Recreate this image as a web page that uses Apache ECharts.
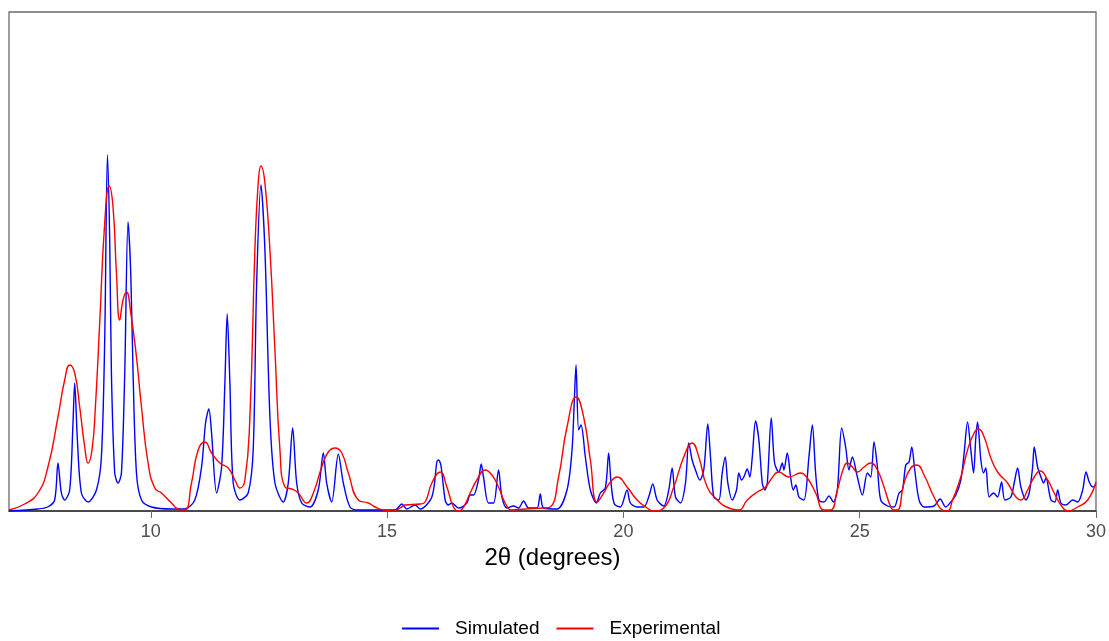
<!DOCTYPE html>
<html>
<head>
<meta charset="utf-8">
<script src="https://cdn.jsdelivr.net/npm/echarts@6/dist/echarts.min.js"></script>
<style>
  html, body { margin: 0; padding: 0; background: #fff; }
  #chart { width: 1109px; height: 641px; }
</style>
</head>
<body>
<div id="chart"></div>
<script>
const seriesNames = ['Simulated', 'Experimental'];
const xTicks = [10, 15, 20, 25, 30];
const xLabel = '2θ (degrees)';

// [2θ, intensity]
const simulated = [
  [7.0,0],[7.606,2],[7.818,4],[7.966,11],[8.036,48],[8.108,18],[8.178,11],[8.284,21],[8.354,88],[8.39,128],
  [8.447,71],[8.532,18],[8.672,9],[8.85,21],[8.955,54],[9.025,171],[9.083,356],[9.131,271],[9.167,138],[9.237,38],
  [9.307,28],[9.379,38],[9.449,138],[9.519,289],[9.576,238],[9.625,138],[9.697,38],[9.803,11],[10.015,4],[10.439,2],
  [10.72,2],[10.932,11],[11.074,44],[11.159,88],[11.229,102],[11.286,78],[11.392,18],[11.498,44],[11.568,128],[11.617,197],
  [11.674,128],[11.744,28],[11.886,11],[12.061,18],[12.167,61],[12.24,228],[12.331,326],[12.415,261],[12.521,94],[12.627,28],
  [12.803,9],[12.909,28],[13.002,83],[13.087,28],[13.193,8],[13.369,4],[13.544,21],[13.65,58],[13.722,28],[13.828,9],
  [13.968,57],[14.074,28],[14.216,4],[14.392,1],[14.64,1],[15.169,1],[15.311,7],[15.417,2],[15.593,6],[15.699,2],
  [15.947,14],[16.053,49],[16.087,51],[16.138,46],[16.229,11],[16.292,6],[16.371,8],[16.511,3],[16.688,8],[16.758,16],
  [16.828,16],[16.934,31],[16.992,47],[17.04,34],[17.146,8],[17.252,8],[17.358,41],[17.43,14],[17.536,3],[17.676,5],
  [17.782,3],[17.888,10],[17.994,3],[18.172,3],[18.242,17],[18.311,3],[18.595,2],[18.807,21],[18.913,61],[18.962,111],
  [18.998,146],[19.053,81],[19.104,86],[19.195,54],[19.301,21],[19.428,8],[19.513,18],[19.619,23],[19.689,58],[19.739,28],
  [19.809,7],[19.936,4],[20.078,21],[20.148,8],[20.29,4],[20.43,4],[20.536,14],[20.621,27],[20.714,11],[20.854,5],
  [20.96,21],[21.032,43],[21.102,14],[21.208,8],[21.314,28],[21.383,68],[21.455,51],[21.525,41],[21.617,31],[21.701,41],
  [21.786,87],[21.843,54],[21.913,14],[22.019,11],[22.091,38],[22.155,54],[22.21,28],[22.303,11],[22.394,21],[22.443,38],
  [22.5,31],[22.549,34],[22.621,42],[22.676,34],[22.727,54],[22.797,90],[22.867,71],[22.939,28],[22.994,21],[23.045,28],
  [23.129,93],[23.199,48],[23.29,39],[23.362,48],[23.396,41],[23.468,58],[23.538,34],[23.595,21],[23.65,26],[23.714,14],
  [23.82,11],[23.926,54],[23.998,86],[24.068,38],[24.138,11],[24.244,9],[24.35,15],[24.443,9],[24.527,21],[24.619,83],
  [24.703,64],[24.773,41],[24.845,54],[24.951,34],[25.057,16],[25.163,38],[25.233,34],[25.303,69],[25.375,44],[25.445,11],
  [25.587,5],[25.727,4],[25.833,18],[25.905,21],[25.975,46],[26.044,49],[26.102,64],[26.165,41],[26.256,11],[26.362,4],
  [26.574,5],[26.701,12],[26.822,4],[26.928,9],[27.034,16],[27.14,31],[27.21,58],[27.282,89],[27.352,61],[27.409,38],
  [27.458,74],[27.494,89],[27.564,51],[27.621,38],[27.669,43],[27.739,14],[27.833,18],[27.917,14],[28.002,29],[28.072,11],
  [28.199,14],[28.269,28],[28.341,43],[28.411,24],[28.517,11],[28.587,18],[28.659,44],[28.693,64],[28.765,44],[28.835,34],
  [28.892,28],[28.941,33],[29.047,11],[29.131,9],[29.189,21],[29.258,8],[29.364,6],[29.506,11],[29.612,9],[29.718,21],
  [29.788,39],[29.858,29],[29.93,24],[30.0,26]
];

const experimental = [
  [7.0,1],[7.33,7],[7.612,18],[7.824,44],[8.036,94],[8.178,131],[8.284,146],[8.39,138],[8.496,104],[8.602,64],
  [8.672,48],[8.756,61],[8.828,104],[8.919,188],[9.025,288],[9.12,325],[9.201,304],[9.273,238],[9.343,191],[9.413,211],
  [9.485,219],[9.576,198],[9.697,154],[9.803,104],[9.943,48],[10.085,23],[10.227,18],[10.439,8],[10.578,2],[10.72,1],
  [10.862,28],[11.002,61],[11.144,69],[11.286,58],[11.462,48],[11.638,43],[11.78,31],[11.886,23],[11.992,31],[12.097,94],
  [12.203,261],[12.273,328],[12.331,345],[12.415,328],[12.521,261],[12.627,161],[12.733,61],[12.839,24],[12.981,22],[13.121,18],
  [13.299,8],[13.439,18],[13.617,44],[13.756,59],[13.898,63],[14.04,58],[14.18,38],[14.392,11],[14.604,8],[14.746,4],
  [14.922,1],[15.133,0],[15.275,3],[15.381,6],[15.699,7],[15.805,9],[15.947,28],[16.123,39],[16.265,24],[16.405,4],
  [16.511,0],[16.617,4],[16.758,18],[16.9,31],[17.076,41],[17.218,36],[17.358,24],[17.5,8],[17.642,1],[17.924,2],
  [18.311,3],[18.453,4],[18.629,34],[18.807,84],[19.004,114],[19.159,94],[19.301,51],[19.443,9],[19.583,18],[19.725,29],
  [19.867,34],[20.078,24],[20.29,11],[20.502,3],[20.642,0],[20.854,3],[21.066,24],[21.278,54],[21.455,68],[21.596,54],
  [21.773,24],[21.985,11],[22.231,3],[22.443,1],[22.621,11],[22.833,19],[23.008,24],[23.114,31],[23.29,39],[23.502,34],
  [23.75,38],[23.892,33],[24.068,18],[24.244,1],[24.386,1],[24.527,21],[24.667,44],[24.739,48],[24.845,44],[24.951,39],
  [25.091,44],[25.233,48],[25.375,41],[25.515,24],[25.657,4],[25.727,1],[25.799,1],[25.939,28],[26.081,43],[26.208,46],
  [26.362,36],[26.574,14],[26.752,1],[26.858,0],[26.964,11],[27.14,34],[27.282,61],[27.422,78],[27.515,82],[27.633,74],
  [27.775,53],[27.917,39],[28.129,28],[28.305,14],[28.411,11],[28.553,21],[28.693,34],[28.82,40],[28.977,31],[29.117,18],
  [29.258,6],[29.4,0],[29.612,4],[29.824,11],[30.0,29]
];

const chart = echarts.init(document.getElementById('chart'), null, { renderer: 'canvas' });
chart.setOption({
  animation: false,
  backgroundColor: '#ffffff',
  textStyle: { fontFamily: 'Liberation Sans, Arial, sans-serif' },
  grid: {
    left: 9, right: 12, top: 12, bottom: 130,
    show: true, borderColor: '#6b6b6b', borderWidth: 1.3, backgroundColor: 'transparent'
  },
  legend: {
    data: seriesNames,
    icon: 'rect',
    left: 397, top: 614,
    itemWidth: 37, itemHeight: 2, itemGap: 17,
    textStyle: { fontSize: 19, color: '#000', padding: [0, 0, 0, 11] }
  },
  xAxis: {
    type: 'value', min: 7, max: 30,
    name: xLabel, nameLocation: 'middle', nameGap: 33,
    nameTextStyle: { fontSize: 24, color: '#000' },
    axisLine: { show: true, onZero: false, lineStyle: { color: '#333', width: 1.5 } },
    axisTick: { show: true, length: 7, lineStyle: { color: '#6b6b6b' }, customValues: xTicks },
    axisLabel: { fontSize: 18, color: '#4d4d4d', margin: 12, customValues: xTicks },
    splitLine: { show: false }
  },
  yAxis: {
    type: 'value', min: 0, max: 499,
    axisLine: { show: false }, axisTick: { show: false }, axisLabel: { show: false },
    splitLine: { show: false }
  },
  series: [
    {
      name: seriesNames[0], type: 'line', data: simulated, symbol: 'none',
      smooth: 0.3,
      lineStyle: { color: '#0000ff', width: 1.4 }, itemStyle: { color: '#0000ff' }, z: 2
    },
    {
      name: seriesNames[1], type: 'line', data: experimental, symbol: 'none',
      smooth: 0.5,
      lineStyle: { color: '#ff0000', width: 1.4 }, itemStyle: { color: '#ff0000' }, z: 3
    }
  ]
});
</script>
</body>
</html>
